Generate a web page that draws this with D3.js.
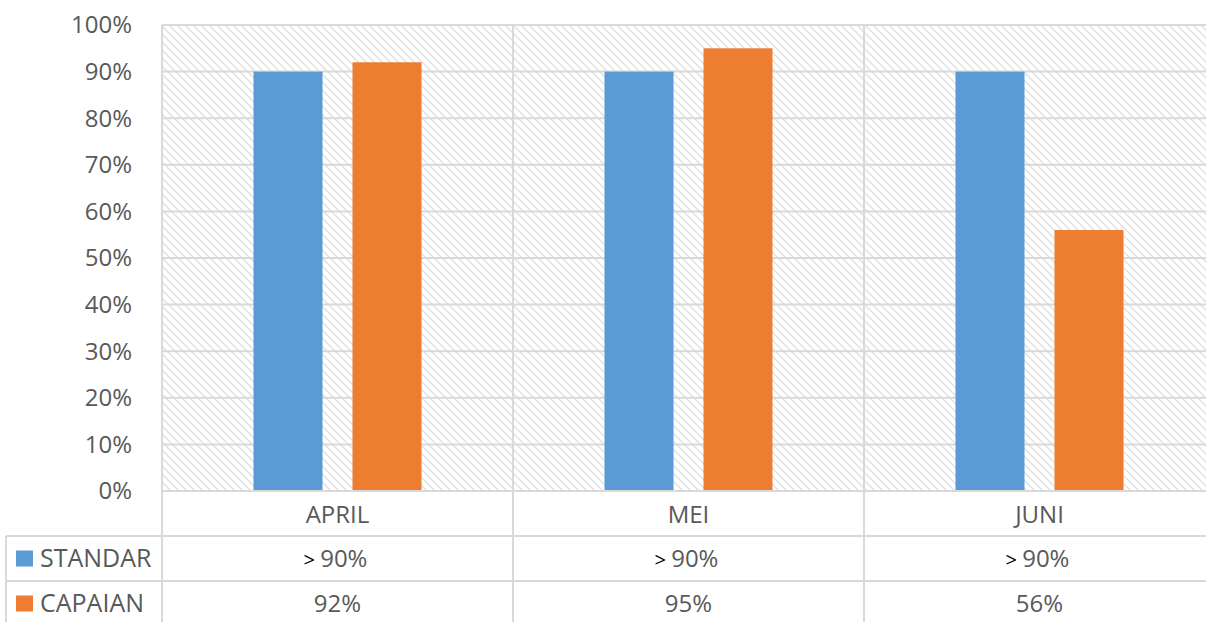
<!DOCTYPE html>
<html>
<head>
<meta charset="utf-8">
<script src="https://cdn.jsdelivr.net/npm/d3@7"></script>
<style>
  body { margin: 0; background: #fff; }
  svg text { font-family: "Open Sans", sans-serif; fill: #595959; }
</style>
</head>
<body>
<svg id="chart" width="1206" height="622"></svg>
<script>
const months = ["APRIL", "MEI", "JUNI"];
const seriesNames = ["STANDAR", "CAPAIAN"];
const standar = [0.90, 0.90, 0.90];
const capaian = [0.92, 0.95, 0.56];
const standarLabels = ["90%", "90%", "90%"];
const capaianLabels = ["92%", "95%", "56%"];
const yTicks = [0, 0.1, 0.2, 0.3, 0.4, 0.5, 0.6, 0.7, 0.8, 0.9, 1.0];
const colors = ["#5b9bd5", "#ed7d31"];

const plotL = 162, plotR = 1215, plotT = 25, plotB = 491;
const rowH = 45;
const gridColor = "#d9d9d9";

const svg = d3.select("#chart");

// hatch pattern for plot background
const defs = svg.append("defs");
const pat = defs.append("pattern")
    .attr("id", "hatch")
    .attr("patternUnits", "userSpaceOnUse")
    .attr("width", 8).attr("height", 8);
pat.append("rect").attr("width", 8).attr("height", 8).attr("fill", "#fff");
pat.append("path")
    .attr("d", "M-2,-2 L10,10 M-2,6 L2,10 M6,-2 L10,2")
    .attr("stroke", "#e0e0e0")
    .attr("stroke-width", 1.4);

const x0 = d3.scaleBand().domain(months).range([plotL, plotR]);
const x1 = d3.scaleBand().domain(seriesNames).range([0, x0.bandwidth()])
    .paddingInner(30 / 99).paddingOuter(0.924);
const y = d3.scaleLinear().domain([0, 1]).range([plotB, plotT]);

svg.append("rect")
    .attr("x", plotL).attr("y", plotT)
    .attr("width", plotR - plotL).attr("height", plotB - plotT)
    .attr("fill", "url(#hatch)");

// gridlines
svg.append("g").selectAll("line").data(yTicks).join("line")
    .attr("x1", plotL).attr("x2", plotR)
    .attr("y1", d => y(d)).attr("y2", d => y(d))
    .attr("stroke", gridColor).attr("stroke-width", 2);

// y tick labels
svg.append("g").selectAll("text").data(yTicks).join("text")
    .attr("x", 132).attr("y", d => y(d))
    .attr("dy", "0.35em")
    .attr("text-anchor", "end")
    .attr("font-size", 24)
    .text(d => d3.format(".0%")(d));

// bars
const rows = months.map((m, i) => ({month: m, values: [standar[i], capaian[i]]}));
const groups = svg.append("g").selectAll("g").data(rows).join("g")
    .attr("transform", d => `translate(${x0(d.month)},0)`);
groups.selectAll("rect")
    .data(d => d.values.map((v, j) => ({name: seriesNames[j], v: v, j: j})))
    .join("rect")
    .attr("x", d => x1(d.name))
    .attr("width", x1.bandwidth())
    .attr("y", d => y(d.v))
    .attr("height", d => y(0) - y(d.v))
    .attr("fill", d => colors[d.j]);

// data table lines
const tbl = svg.append("g").attr("stroke", gridColor).attr("stroke-width", 2);
tbl.append("line").attr("x1", plotL).attr("x2", plotR).attr("y1", plotB).attr("y2", plotB);
[plotB + rowH, plotB + 2 * rowH].forEach(yy => {
  tbl.append("line").attr("x1", 6).attr("x2", plotR).attr("y1", yy).attr("y2", yy);
});
tbl.append("line").attr("x1", 6).attr("x2", 6).attr("y1", plotB + rowH).attr("y2", 622);
months.forEach(m => {
  const xx = x0(m);
  tbl.append("line").attr("x1", xx).attr("x2", xx)
    .attr("y1", plotT).attr("y2", 622);
});

// category labels row
svg.append("g").selectAll("text").data(months).join("text")
    .attr("x", d => x0(d) + x0.bandwidth() / 2)
    .attr("y", plotB + rowH / 2 + 1)
    .attr("dy", "0.35em")
    .attr("text-anchor", "middle")
    .attr("font-size", 24)
    .text(d => d);

// table values
const standarText = svg.append("g").selectAll("text").data(months).join("text")
    .attr("x", d => x0(d) + x0.bandwidth() / 2 - 2)
    .attr("y", plotB + rowH * 1.5)
    .attr("dy", "0.35em")
    .attr("text-anchor", "middle")
    .attr("font-size", 24);
standarText.append("tspan").style("fill", "#000").attr("font-size", 20).text("> ");
standarText.append("tspan").text((d, i) => standarLabels[i]);

svg.append("g").selectAll("text").data(months).join("text")
    .attr("x", d => x0(d) + x0.bandwidth() / 2)
    .attr("y", plotB + rowH * 2.5)
    .attr("dy", "0.35em")
    .attr("text-anchor", "middle")
    .attr("font-size", 24)
    .text((d, i) => capaianLabels[i]);

// legend keys in table
seriesNames.forEach((s, j) => {
  const cy = plotB + rowH * (1.5 + j);
  svg.append("rect")
    .attr("x", 16).attr("y", cy - 8)
    .attr("width", 17).attr("height", 16)
    .attr("fill", colors[j]);
  svg.append("text")
    .attr("x", 40).attr("y", cy)
    .attr("dy", "0.35em")
    .attr("font-size", 25)
    .text(s);
});
</script>
</body>
</html>
